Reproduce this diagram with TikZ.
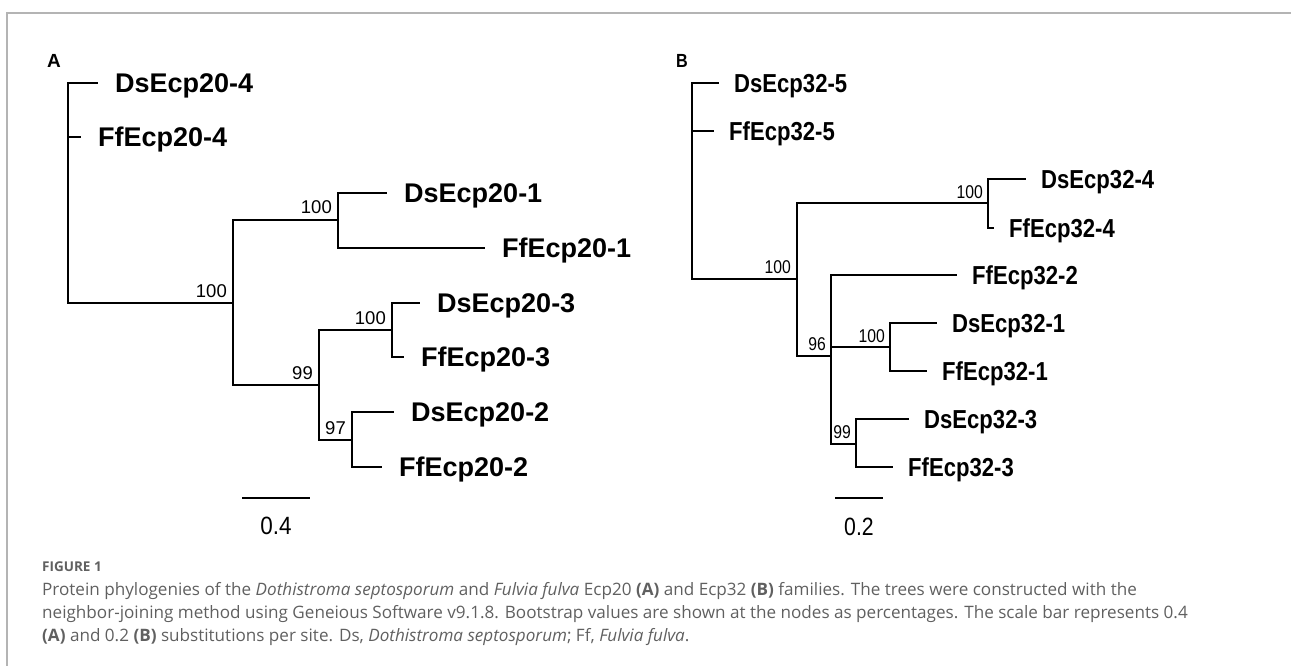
\documentclass[tikz,border=0pt]{standalone}
\usepackage{fontspec}
\setmainfont{Liberation Sans}
\newfontfamily\capfont{Open Sans}
\definecolor{framegray}{HTML}{B4B4B4}
\definecolor{capgray}{HTML}{606060}
\newcommand{\cb}[1]{\scalebox{0.85}[1]{#1}}
\tikzset{
  branch/.style={line width=1.8pt, line join=miter},
  leafA/.style={anchor=west, inner sep=0pt, font=\bfseries\fontsize{27}{27}\selectfont, text height=19.3pt, text depth=0pt},
  leafB/.style={anchor=west, inner sep=0pt, font=\bfseries\fontsize{26}{26}\selectfont, text height=18.6pt, text depth=0pt},
  boot/.style={anchor=base east, inner sep=0pt, font=\fontsize{18.5}{18.5}\selectfont},
  panel/.style={anchor=base west, inner sep=0pt, font=\bfseries\fontsize{19}{19}\selectfont},
  scalelab/.style={anchor=center, inner sep=0pt, font=\fontsize{25}{25}\selectfont, text height=18pt, text depth=0pt},
  capline/.style={anchor=base west, inner sep=0pt, text=capgray, font=\capfont\fontsize{17.1}{17.1}\selectfont},
  caphead/.style={anchor=base west, inner sep=0pt, text=capgray, font=\capfont\bfseries\fontsize{13.5}{13.5}\selectfont}
}
\begin{document}
\begin{tikzpicture}[x=1pt,y=-1pt]
\useasboundingbox (0,0) rectangle (1291,666);
\draw[framegray, line width=1.5pt] (1291,13) -- (7,13) -- (7,666);

% ---------------- Tree A ----------------
\node[panel] (PA) at (47,68) {A};
\coordinate (rA) at (68,137);
\coordinate (tA1) at (98,83);
\coordinate (tA2) at (81,137);
\coordinate (nA1) at (233,303);
\coordinate (nA2) at (338,220);
\coordinate (tA3) at (387,193);
\coordinate (tA4) at (485,248);
\coordinate (nA3) at (319,385);
\coordinate (nA4) at (392,330);
\coordinate (tA5) at (420,303);
\coordinate (tA6) at (404,357);
\coordinate (nA5) at (352,440);
\coordinate (tA7) at (394,412);
\coordinate (tA8) at (382,467);

\draw[branch] (rA) |- (tA1);
\draw[branch] (rA) |- (tA2);
\draw[branch] (rA) |- (nA1);
\draw[branch] (nA1) |- (nA2);
\draw[branch] (nA1) |- (nA3);
\draw[branch] (nA2) |- (tA3);
\draw[branch] (nA2) |- (tA4);
\draw[branch] (nA3) |- (nA4);
\draw[branch] (nA3) |- (nA5);
\draw[branch] (nA4) |- (tA5);
\draw[branch] (nA4) |- (tA6);
\draw[branch] (nA5) |- (tA7);
\draw[branch] (nA5) |- (tA8);

\node[leafA] (LA1) at ([xshift=17pt]tA1) {DsEcp20-4};
\node[leafA] (LA2) at ([xshift=17pt]tA2) {FfEcp20-4};
\node[leafA] (LA3) at ([xshift=17pt]tA3) {DsEcp20-1};
\node[leafA] (LA4) at ([xshift=17pt]tA4) {FfEcp20-1};
\node[leafA] (LA5) at ([xshift=17pt]tA5) {DsEcp20-3};
\node[leafA] (LA6) at ([xshift=17pt]tA6) {FfEcp20-3};
\node[leafA] (LA7) at ([xshift=17pt]tA7) {DsEcp20-2};
\node[leafA] (LA8) at ([xshift=17pt]tA8) {FfEcp20-2};

\node[boot] (bA1) at ([shift={(-6,-6)}]nA1) {100};
\node[boot] (bA2) at ([shift={(-6,-6)}]nA2) {100};
\node[boot] (bA3) at ([shift={(-6,-6)}]nA3) {99};
\node[boot] (bA4) at ([shift={(-6,-6)}]nA4) {100};
\node[boot] (bA5) at ([shift={(-6,-6)}]nA5) {97};

\coordinate (sA1) at (242,498);
\coordinate (sA2) at (310,498);
\draw[branch] (sA1) -- (sA2);
\node[scalelab] (sAl) at (276,525) {\scalebox{0.9}[1]{0.4}};

% ---------------- Tree B ----------------
\node[panel] (PB) at (676,68) {\cb{B}};
\coordinate (rB) at (692,131);
\coordinate (tB1) at (719,83);
\coordinate (tB2) at (714,131);
\coordinate (nB1) at (797,279);
\coordinate (nB2) at (988,203);
\coordinate (tB3) at (1026,179);
\coordinate (tB4) at (994,228);
\coordinate (nB3) at (831,356);
\coordinate (tB5) at (957,275);
\coordinate (nB4) at (890,347);
\coordinate (tB6) at (937,323);
\coordinate (tB7) at (927,371);
\coordinate (nB5) at (856,444);
\coordinate (tB8) at (909,419);
\coordinate (tB9) at (893,467);

\draw[branch] (rB) |- (tB1);
\draw[branch] (rB) |- (tB2);
\draw[branch] (rB) |- (nB1);
\draw[branch] (nB1) |- (nB2);
\draw[branch] (nB1) |- (nB3);
\draw[branch] (nB2) |- (tB3);
\draw[branch] (nB2) |- (tB4);
\draw[branch] (nB3) |- (tB5);
\draw[branch] (nB3) |- (nB4);
\draw[branch] (nB3) |- (nB5);
\draw[branch] (nB4) |- (tB6);
\draw[branch] (nB4) |- (tB7);
\draw[branch] (nB5) |- (tB8);
\draw[branch] (nB5) |- (tB9);

\node[leafB] (LB1) at ([xshift=15pt]tB1) {\cb{DsEcp32-5}};
\node[leafB] (LB2) at ([xshift=15pt]tB2) {\cb{FfEcp32-5}};
\node[leafB] (LB3) at ([xshift=15pt]tB3) {\cb{DsEcp32-4}};
\node[leafB] (LB4) at ([xshift=15pt]tB4) {\cb{FfEcp32-4}};
\node[leafB] (LB5) at ([xshift=15pt]tB5) {\cb{FfEcp32-2}};
\node[leafB] (LB6) at ([xshift=15pt]tB6) {\cb{DsEcp32-1}};
\node[leafB] (LB7) at ([xshift=15pt]tB7) {\cb{FfEcp32-1}};
\node[leafB] (LB8) at ([xshift=15pt]tB8) {\cb{DsEcp32-3}};
\node[leafB] (LB9) at ([xshift=15pt]tB9) {\cb{FfEcp32-3}};

\node[boot] (bB1) at ([shift={(-6,-6)}]nB1) {\cb{100}};
\node[boot] (bB2) at ([shift={(-5,-5)}]nB2) {\cb{100}};
\node[boot] (bB3) at ([shift={(-5,-6)}]nB3) {\cb{96}};
\node[boot] (bB4) at ([shift={(-5,-5)}]nB4) {\cb{100}};
\node[boot] (bB5) at ([shift={(-5,-6)}]nB5) {\cb{99}};

\coordinate (sB1) at (835,498);
\coordinate (sB2) at (883,498);
\draw[branch] (sB1) -- (sB2);
\node[scalelab] (sBl) at (859,526) {\scalebox{0.85}[1]{0.2}};

% ---------------- Caption ----------------
\node[caphead] (fig) at (42,571) {FIGURE 1};
\node[capline] (c1) at (42,595) {Protein phylogenies of the \textit{Dothistroma septosporum} and \textit{Fulvia fulva} Ecp20 \textbf{(A)} and Ecp32 \textbf{(B)} families. The trees were constructed with the};
\node[capline] (c2) at (42,618) {neighbor-joining method using Geneious Software v9.1.8. Bootstrap values are shown at the nodes as percentages. The scale bar represents 0.4};
\node[capline] (c3) at (42,641) {\textbf{(A)} and 0.2 \textbf{(B)} substitutions per site. Ds, \textit{Dothistroma septosporum}; Ff, \textit{Fulvia fulva}.};
\end{tikzpicture}
\end{document}
